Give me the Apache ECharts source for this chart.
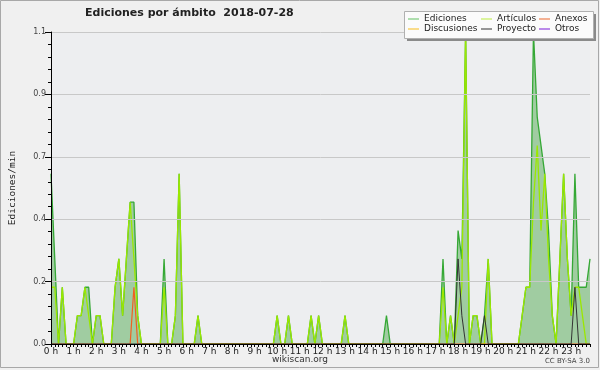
<!DOCTYPE html>
<html><head><meta charset="utf-8">
<script src="https://cdn.jsdelivr.net/npm/echarts@6/dist/echarts.min.js"></script>
<style>html,body{margin:0;padding:0;background:#f0f0f0}#c{width:600px;height:370px}</style>
</head><body><div id="c"></div>
<script>
// hour tick labels; each hour has six 10-minute slots
const hourLabels = ['0 h','1 h','2 h','3 h','4 h','5 h','6 h','7 h','8 h','9 h','10 h','11 h','12 h','13 h','14 h','15 h','16 h','17 h','18 h','19 h','20 h','21 h','22 h','23 h'];
const slotMinutes = ['00','10','20','30','40','50'];
const categories = [];
hourLabels.forEach(function(h){ slotMinutes.forEach(function(m){ categories.push(h + ':' + m); }); });

const ediciones = [
 0.6,0.3,0,0.2,0,0,0,0.1,0.1,0.2,0.2,0,
 0.1,0.1,0,0,0,0.2,0.3,0.1,0.3,0.5,0.5,0.1,
 0,0,0,0,0,0,0.3,0,0,0.1,0.6,0,
 0,0,0,0.1,0,0,0,0,0,0,0,0,
 0,0,0,0,0,0,0,0,0,0,0,0,
 0.1,0,0,0.1,0,0,0,0,0,0.1,0,0.1,
 0,0,0,0,0,0,0.1,0,0,0,0,0,
 0,0,0,0,0,0.1,0,0,0,0,0,0,
 0,0,0,0,0,0,0,0,0.3,0,0.1,0,
 0.4,0.3,1.1,0,0.1,0.1,0,0.1,0.3,0,0,0,
 0,0,0,0,0,0.1,0.2,0.2,1.1,0.8,0.7,0.6,
 0.4,0.1,0,0.3,0.6,0.3,0.1,0.6,0.2,0.2,0.2,0.3
];
const articulos = [
 0.2,0.2,0,0.2,0,0,0,0.1,0.1,0.2,0.1,0,
 0.1,0.1,0,0,0,0.2,0.3,0.1,0.3,0.5,0.3,0.1,
 0,0,0,0,0,0,0.2,0,0,0.1,0.6,0,
 0,0,0,0.1,0,0,0,0,0,0,0,0,
 0,0,0,0,0,0,0,0,0,0,0,0,
 0.1,0,0,0.1,0,0,0,0,0,0.1,0,0.1,
 0,0,0,0,0,0,0.1,0,0,0,0,0,
 0,0,0,0,0,0,0,0,0,0,0,0,
 0,0,0,0,0,0,0,0,0.2,0,0.1,0,
 0.1,0.2,1.1,0,0.1,0.1,0,0,0.3,0,0,0,
 0,0,0,0,0,0.1,0.2,0.2,0.5,0.7,0.4,0.6,
 0.3,0.1,0,0.3,0.6,0.3,0.1,0.2,0.2,0.1,0,0
];
const anexos = [
 0,0,0,0,0,0,0,0,0,0,0,0,
 0,0,0,0,0,0,0,0,0,0,0.2,0,
 0,0,0,0,0,0,0,0,0,0,0,0,
 0,0,0,0,0,0,0,0,0,0,0,0,
 0,0,0,0,0,0,0,0,0,0,0,0,
 0,0,0,0,0,0,0,0,0,0,0,0,
 0,0,0,0,0,0,0,0,0,0,0,0,
 0,0,0,0,0,0,0,0,0,0,0,0,
 0,0,0,0,0,0,0,0,0,0,0,0,
 0,0,0,0,0,0,0,0,0,0,0,0,
 0,0,0,0,0,0,0,0,0,0,0,0,
 0,0,0,0,0,0,0,0,0,0,0,0
];
const discusiones = [
 0,0,0,0,0,0,0,0,0,0,0,0, 0,0,0,0,0,0,0,0,0,0,0,0,
 0,0,0,0,0,0,0,0,0,0,0,0, 0,0,0,0,0,0,0,0,0,0,0,0,
 0,0,0,0,0,0,0,0,0,0,0,0, 0,0,0,0,0,0,0,0,0,0,0,0,
 0,0,0,0,0,0,0,0,0,0,0,0, 0,0,0,0,0,0,0,0,0,0,0,0,
 0,0,0,0,0,0,0,0,0,0,0,0, 0,0,0,0,0,0,0,0,0,0,0,0,
 0,0,0,0,0,0,0,0,0,0,0,0, 0,0,0,0,0,0,0,0,0,0,0,0
];
const proyecto = [
 0,0,0,0,0,0,0,0,0,0,0,0,
 0,0,0,0,0,0,0,0,0,0,0,0,
 0,0,0,0,0,0,0,0,0,0,0,0,
 0,0,0,0,0,0,0,0,0,0,0,0,
 0,0,0,0,0,0,0,0,0,0,0,0,
 0,0,0,0,0,0,0,0,0,0,0,0,
 0,0,0,0,0,0,0,0,0,0,0,0,
 0,0,0,0,0,0,0,0,0,0,0,0,
 0,0,0,0,0,0,0,0,0,0,0,0,
 0.3,0.1,0,0,0,0,0,0.1,0,0,0,0,
 0,0,0,0,0,0,0,0,0,0,0,0,
 0,0,0,0,0,0,0,0.2,0,0,0,0
];
const otros = [
 0,0,0,0,0,0,0,0,0,0,0,0, 0,0,0,0,0,0,0,0,0,0,0,0,
 0,0,0,0,0,0,0,0,0,0,0,0, 0,0,0,0,0,0,0,0,0,0,0,0,
 0,0,0,0,0,0,0,0,0,0,0,0, 0,0,0,0,0,0,0,0,0,0,0,0,
 0,0,0,0,0,0,0,0,0,0,0,0, 0,0,0,0,0,0,0,0,0,0,0,0,
 0,0,0,0,0,0,0,0,0,0,0,0, 0,0,0,0,0,0,0,0,0,0,0,0,
 0,0,0,0,0,0,0,0,0,0,0,0, 0,0,0,0,0,0,0,0,0,0,0,0
];
const yTicks = [0, 0.22, 0.44, 0.66, 0.88, 1.1];

const chart = echarts.init(document.getElementById('c'), null, {renderer:'canvas'});
const F = 'DejaVu Sans';
function legendCol(names, left){
  return {data:names, orient:'vertical', left:left, top:14, padding:0, icon:'rect', itemWidth:11, itemHeight:1.2, itemGap:0,
    z:12, selectedMode:false, textStyle:{fontFamily:F, fontSize:9, color:'#222', lineHeight:10}};
}
chart.setOption({
  backgroundColor:'#f0f0f0',
  animation:false,
  title:{text:'Ediciones por ámbito  2018-07-28', left:80, top:3,
    textStyle:{fontFamily:F, fontSize:11, fontWeight:'bold', color:'#222'}},
  legend:[legendCol(['Ediciones','Discusiones'],408), legendCol(['Artículos','Proyecto'],481), legendCol(['Anexos','Otros'],539)],
  grid:{left:46, right:10, top:32, bottom:26, show:true, backgroundColor:'#edeef0', borderWidth:0},
  xAxis:{type:'category', data:categories, boundaryGap:false, z:5,
    axisLine:{lineStyle:{color:'#000', width:1}},
    axisTick:{interval:0, length:3, lineStyle:{color:'#000'}},
    axisLabel:{interval:5, margin:3, fontFamily:F, fontSize:9, color:'#222',
      formatter:function(v,i){ return hourLabels[Math.floor(i/6)]; }},
    splitLine:{show:false}},
  yAxis:{type:'value', min:0, max:yTicks[yTicks.length-1], interval:yTicks[1], z:5,
    name:'Ediciones/min', nameLocation:'middle', nameGap:33,
    nameTextStyle:{fontFamily:'DejaVu Sans Mono', fontSize:9.5, color:'#222'},
    axisLine:{show:true, lineStyle:{color:'#000'}},
    axisTick:{show:true, length:6, lineStyle:{color:'#000'}},
    minorTick:{show:true, splitNumber:5, length:3, lineStyle:{color:'#000'}},
    axisLabel:{margin:5, fontFamily:F, fontSize:8, color:'#444', formatter:function(v){return v.toFixed(1);}},
    splitLine:{lineStyle:{color:'#c8c8c8', width:1}}},
  series:[
    {name:'Ediciones', type:'line', data:ediciones, symbol:'none', z:2,
      lineStyle:{color:'#35a835', width:1.3}, itemStyle:{color:'#7ccc7c'},
      areaStyle:{color:'#9cc99c', opacity:0.95}},
    {name:'Artículos', type:'line', data:articulos, symbol:'none', z:3,
      lineStyle:{color:'#9be800', width:1.3}, itemStyle:{color:'#c6f060'}},
    {name:'Anexos', type:'line', data:anexos, symbol:'none', z:3,
      lineStyle:{color:'#f06020', width:1.2}, itemStyle:{color:'#f08050'}},
    {name:'Discusiones', type:'line', data:discusiones, symbol:'none', z:1,
      lineStyle:{color:'#f8c840', width:1.2}, itemStyle:{color:'#f8c840'}},
    {name:'Proyecto', type:'line', data:proyecto, symbol:'none', z:4,
      lineStyle:{color:'#333', width:1}, itemStyle:{color:'#555'}},
    {name:'Otros', type:'line', data:otros, symbol:'none', z:1,
      lineStyle:{color:'#9040e0', width:1.2}, itemStyle:{color:'#9040e0'}}
  ],
  graphic:[
    {type:'rect', z:10, shape:{x:407, y:14, width:189, height:27}, style:{fill:'#8a8a8a'}},
    {type:'rect', z:11, shape:{x:404.5, y:11.5, width:189, height:27}, style:{fill:'#fbfbfb', stroke:'#b0b0b0', lineWidth:1}},
    {type:'text', left:'center', top:355, z:5, style:{text:'wikiscan.org', font:'9px "DejaVu Sans"', fill:'#333'}},
    {type:'text', right:10, top:358, z:5, style:{text:'CC BY-SA 3.0', font:'7px "DejaVu Sans"', fill:'#444'}},
    {type:'rect', z:0, shape:{x:0.5, y:0.5, width:598, height:367}, style:{fill:'none', stroke:'#a8a8a8', lineWidth:1}}
  ]
});
</script></body></html>
